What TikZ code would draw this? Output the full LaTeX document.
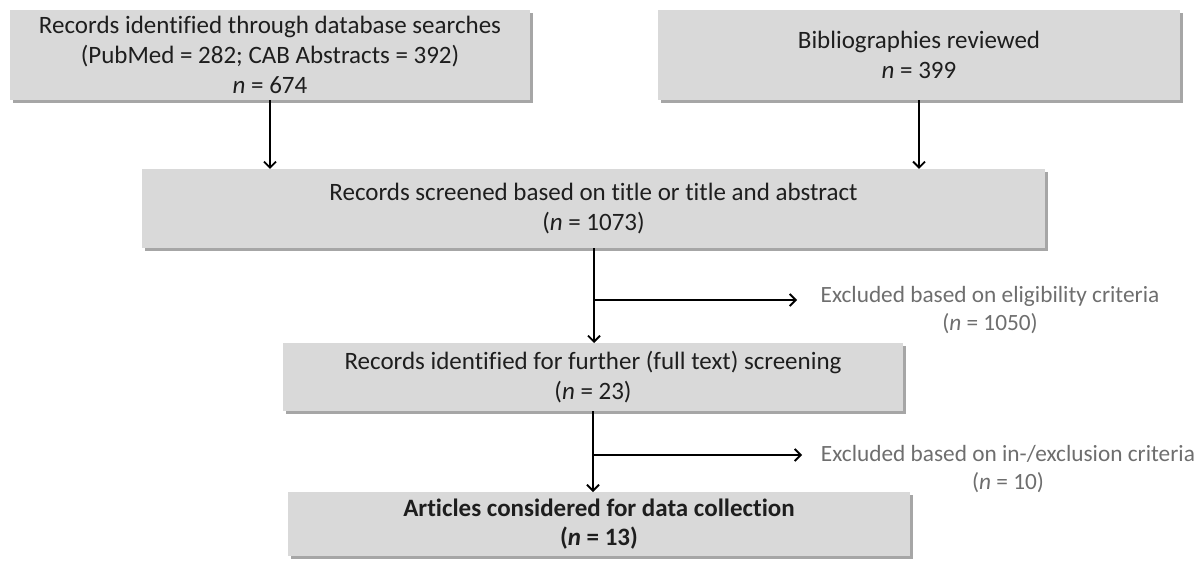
\documentclass[tikz,border=0pt]{standalone}
\usepackage{fontspec}
\setmainfont[Ligatures=NoCommon]{Carlito}
\usetikzlibrary{arrows.meta,shadows}
\definecolor{boxfill}{HTML}{D9D9D9}
\definecolor{boxtext}{HTML}{1E1E1E}
\definecolor{extext}{HTML}{6E6E6E}
\begin{document}
\begin{tikzpicture}[x=1pt,y=-1pt,
  flowbox/.style={fill=boxfill, draw=none, text=boxtext, align=center,
    inner sep=0pt, font=\fontsize{25}{30}\selectfont,
    drop shadow={shadow xshift=2.5pt, shadow yshift=-2.5pt, fill=black, opacity=0.35}},
  extxt/.style={text=extext, align=center, inner sep=0pt, font=\fontsize{23.3}{28}\selectfont},
  arr/.style={line width=1.8pt, draw=black, -{Straight Barb[length=6pt,width=12pt,line width=1.8pt]}}]
\useasboundingbox (0,0) rectangle (1201,563);
\node[flowbox, minimum width=520pt, minimum height=90pt] (box1) at (270,55)
  {Records identified through database searches\\(PubMed = 282; CAB Abstracts = 392)\\\textit{n} = 674};
\node[flowbox, minimum width=522pt, minimum height=90pt] (box2) at (919,55)
  {Bibliographies reviewed\\\textit{n} = 399};
\node[flowbox, minimum width=903pt, minimum height=79pt] (box3) at (593.5,208.5)
  {Records screened based on title or title and abstract\\(\textit{n} = 1073)};
\node[flowbox, minimum width=620pt, minimum height=68pt] (box4) at (593,377)
  {Records identified for further (full text) screening\\(\textit{n} = 23)};
\node[flowbox, minimum width=622pt, minimum height=64pt, font=\fontsize{25}{29}\selectfont] (box5) at (599,524)
  {\textbf{Articles considered for data collection}\\\textbf{(\textit{n} = 13)}};
\node[extxt] (ex1) at (990,310) {Excluded based on eligibility criteria\\(\textit{n} = 1050)};
\node[extxt] (ex2) at (1008,469) {Excluded based on in-/exclusion criteria\\(\textit{n} = 10)};
\coordinate (j1) at (594,300);
\coordinate (e1) at (797,300);
\coordinate (j2) at (593,455);
\coordinate (e2) at (802,455);
\draw[arr] (box1.south) -- (box1.south |- box3.north);
\draw[arr] (box2.south) -- (box2.south |- box3.north);
\draw[arr] (594,248) -- (594,343);
\draw[arr] (j1) -- (e1);
\draw[arr] (593,411) -- (593,492);
\draw[arr] (j2) -- (e2);
\end{tikzpicture}
\end{document}
